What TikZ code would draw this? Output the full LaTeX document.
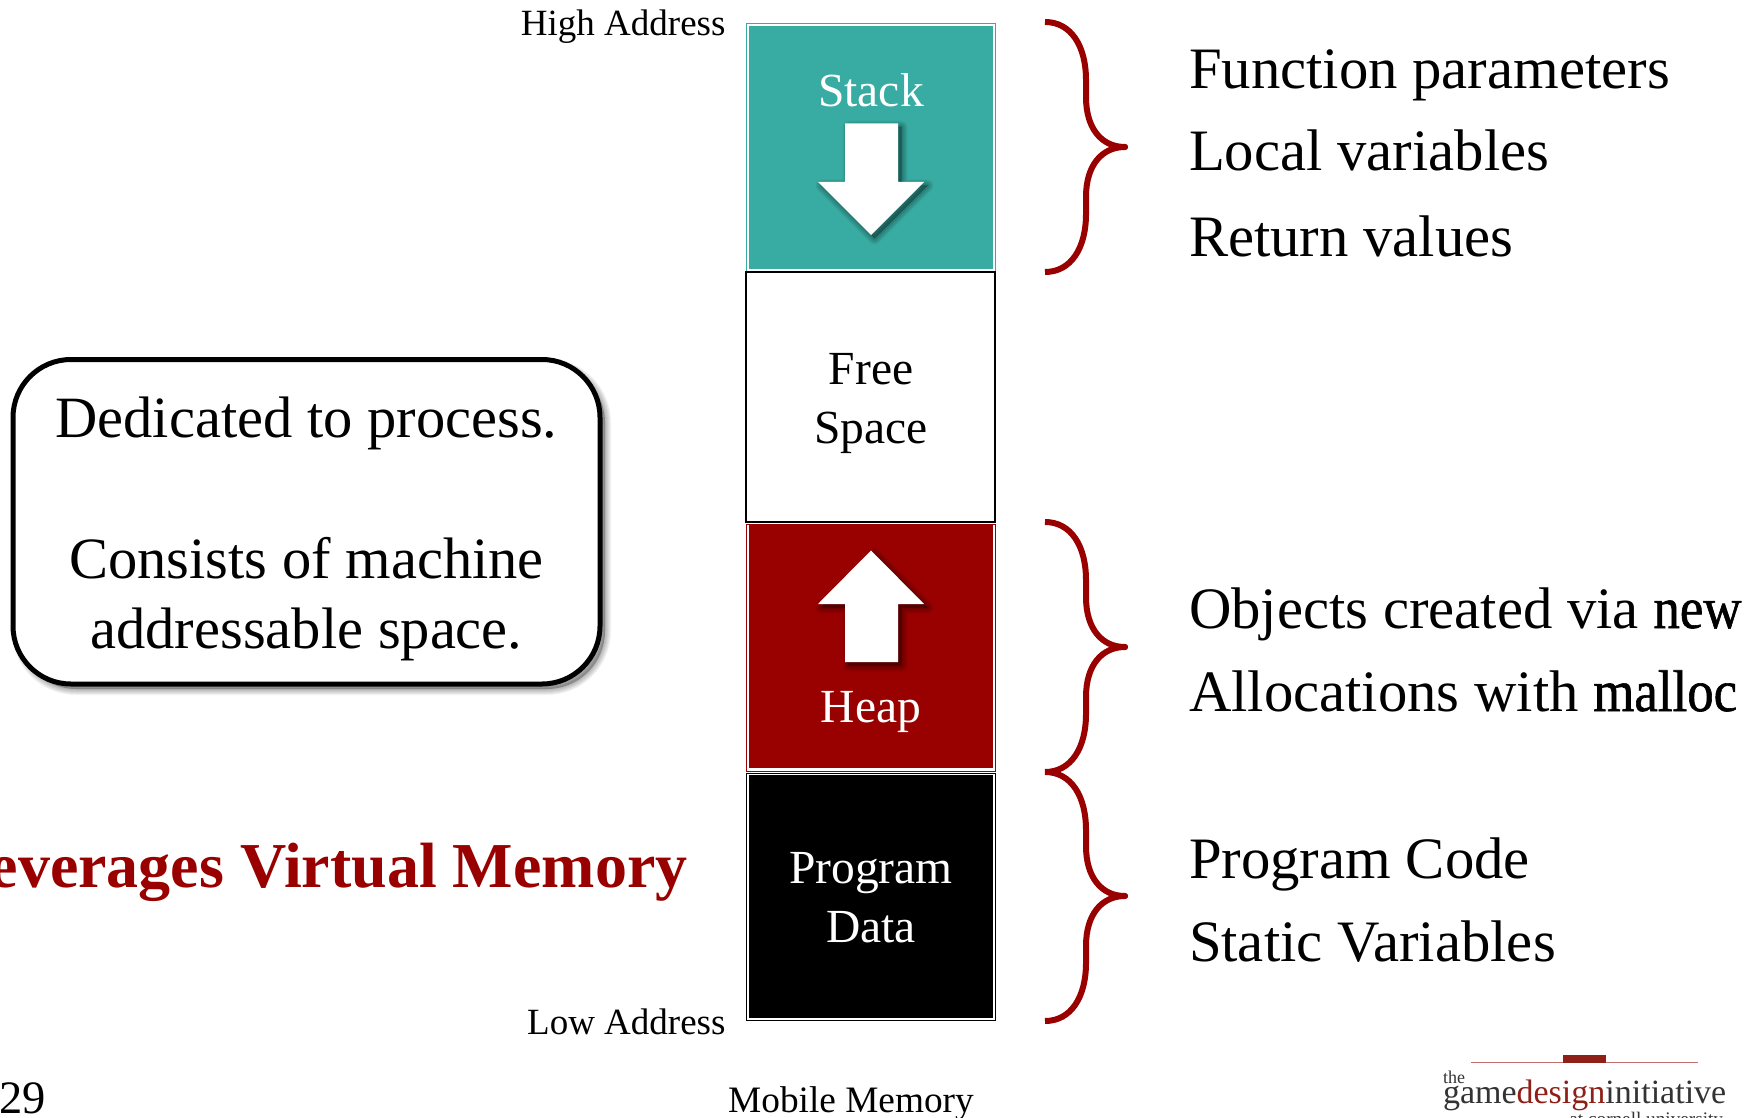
\documentclass[tikz,border=0pt]{standalone}
\usepackage{fontspec}
\setmainfont{Liberation Serif}
\newfontfamily\codefont[FakeBold=1,FakeStretch=0.9]{Liberation Serif}
\definecolor{tealfill}{HTML}{38ACA2}
\definecolor{heapred}{HTML}{990000}
\definecolor{logored}{HTML}{8F2018}
\definecolor{logoline}{HTML}{C07070}
\definecolor{logogray}{HTML}{333333}
\newcommand{\fsz}[1]{\fontsize{#1}{#1}\selectfont}
\newcommand{\softshadow}[2]{%
  \foreach \w in {12,10,8,6,4,2}{%
    \path[fill=black,draw=black,fill opacity=0.05,draw opacity=0.05,line width=\w pt,line join=round,shift={(#1,#1)}] #2;%
  }%
}
\newcommand{\bracepath}[3]{% top, tip y, bottom
  \draw[bracestroke] (1045,#1) .. controls (1071,#1) and (1086,{#1+24}) .. (1086,{#1+58})
     -- (1086,{#2-50}) .. controls (1086,{#2-18}) and (1102,#2) .. (1125,#2)
     .. controls (1102,#2) and (1086,{#2+18}) .. (1086,{#2+50})
     -- (1086,{#3-58}) .. controls (1086,{#3-24}) and (1071,#3) .. (1045,#3);
  \fill[heapred] (1125,#2) circle (3);
}
\tikzset{
  x=1pt,y=-1pt,
  bracestroke/.style={draw=heapred,line width=6pt,line join=round},
  plain/.style={inner sep=0pt,outer sep=0pt},
  bodytext/.style={plain,anchor=base west,font=\fsz{58.7}},
  boxlabel/.style={plain,anchor=base,font=\fsz{47.5},align=center},
  smalllabel/.style={plain,anchor=base east,font=\fsz{37}},
  framebox/.style={plain,rectangle,draw=#1,line width=1pt,fill=white,minimum width=248.5pt,minimum height=247pt},
  fillbox/.style={plain,rectangle,fill=#1,minimum width=243.5pt,minimum height=242.5pt},
}
\begin{document}
\begin{tikzpicture}
\useasboundingbox (0,0) rectangle (1761,1118);
\clip (0,0) rectangle (1761,1118);
% column boxes
\node[framebox=tealfill] (stackframe) at (871,147.5) {};
\node[fillbox=tealfill] (stackfill) at (871,147.5) {};
\node[plain,rectangle,draw=black,line width=2pt,fill=white,minimum width=249pt,minimum height=250pt] (freebox) at (870.5,397) {};
\node[framebox=heapred] (heapframe) at (871,647.5) {};
\node[fillbox=heapred] (heapfill) at (871,646.5) {};
\node[framebox=black] (progframe) at (871,897) {};
\node[fillbox=black] (progfill) at (871,896.5) {};
% stack arrow
\softshadow{3.5}{(845,123.5) -- (898,123.5) -- (898,182) -- (924,182) -- (871,235) -- (818,182) -- (845,182) -- cycle}
\fill[white] (845,123.5) -- (898,123.5) -- (898,182) -- (924,182) -- (871,235) -- (818,182) -- (845,182) -- cycle;
% heap arrow
\softshadow{3.5}{(871,550.5) -- (924,604) -- (898,604) -- (898,662) -- (845,662) -- (845,604) -- (818,604) -- cycle}
\fill[white] (871,550.5) -- (924,604) -- (898,604) -- (898,662) -- (845,662) -- (845,604) -- (818,604) -- cycle;
% box labels
\node[boxlabel,text=white] (stacklabel) at (871,106.5) {Stack};
\node[boxlabel] (freelabel) at (871,384) {Free};
\node[boxlabel] (spacelabel) at (871,443) {Space};
\node[boxlabel,text=white] (heaplabel) at (871,722.5) {Heap};
\node[boxlabel,text=white] (proglabel) at (871,883) {Program};
\node[boxlabel,text=white] (datalabel) at (871,942) {Data};
% address labels
\node[smalllabel] (high) at (725.5,36) {High Address};
\node[smalllabel] (low) at (725.5,1034) {Low Address};
% braces
\bracepath{22}{147}{272}
\bracepath{522}{647}{772}
\bracepath{772}{896}{1021}
% right text
\node[bodytext] (t1) at (1189,89) {Function parameters};
\node[bodytext] (t2) at (1189,171) {Local variables};
\node[bodytext] (t3) at (1189,256) {Return values};
\node[bodytext] (t4) at (1189,628) {Objects created via {\codefont new}};
\node[bodytext] (t5) at (1189,711) {Allocations with {\codefont malloc}};
\node[bodytext] (t6) at (1189,878.5) {Program Code};
\node[bodytext] (t7) at (1189,961) {Static Variables};
% rounded call-out
\softshadow{5}{[rounded corners=58pt] (13,359.5) rectangle (600,684)}
\draw[line width=5pt,fill=white,rounded corners=58pt] (13,359.5) rectangle (600,684);
\node[plain,anchor=base,font=\fsz{58.5}] (c1) at (306.5,437) {Dedicated to process.};
\node[plain,anchor=base,font=\fsz{58.5}] (c2) at (306.5,578) {Consists of machine};
\node[plain,anchor=base,font=\fsz{58.5}] (c3) at (306.5,648) {addressable space.};
% headline
\node[plain,anchor=base east,text=heapred,font=\fsz{64}\bfseries] (lever) at (687.5,887) {Leverages Virtual Memory};
% footer
\node[plain,anchor=base west,font=\fsz{46.5}] (num) at (-1,1113) {29};
\node[plain,anchor=base,font=\fsz{37.3}] (foot) at (851,1112) {Mobile Memory};
% logo
\draw[draw=logoline,line width=1.2pt] (1471,1062.7) -- (1698,1062.7);
\fill[logored] (1563,1055) rectangle (1606,1063);
\node[plain,anchor=base west,text=logogray,font=\fsz{18}] (lthe) at (1443,1083) {the};
\node[plain,anchor=base west,font=\fsz{34}] (lgame) at (1443,1103) {\textcolor{logogray}{game}\textcolor{logored}{design}\textcolor{logogray}{initiative}};
\node[plain,anchor=base east,text=logogray,font=\fsz{19.2}] (lcorn) at (1723,1125) {at cornell university};
\end{tikzpicture}
\end{document}
